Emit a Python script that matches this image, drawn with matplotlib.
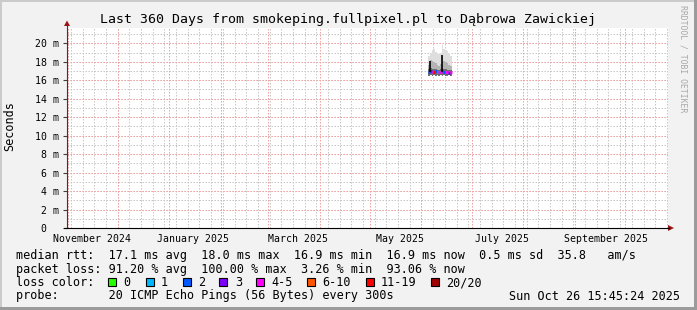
import datetime as dt
import matplotlib
matplotlib.use("Agg")
import matplotlib.pyplot as plt
from matplotlib.patches import Rectangle, Polygon
import pandas as pd

W, H = 697, 310
MONO = "DejaVu Sans Mono"

# ---- data ----
t_start = dt.datetime(2024, 10, 31, 15, 45, 24)
t_end = dt.datetime(2025, 10, 26, 15, 45, 24)

label_dates = [dt.datetime(2024, 11, 15, 16), dt.datetime(2025, 1, 15, 10),
               dt.datetime(2025, 3, 19, 7), dt.datetime(2025, 5, 19, 7),
               dt.datetime(2025, 7, 19, 7), dt.datetime(2025, 9, 19, 7)]
label_text = ["November 2024", "January 2025", "March 2025",
              "May 2025", "July 2025", "September 2025"]

ytick_vals = [0, 2, 4, 6, 8, 10, 12, 14, 16, 18, 20]
ytick_text = ["0  ", "2 m", "4 m", "6 m", "8 m", "10 m", "12 m", "14 m",
              "16 m", "18 m", "20 m"]

# daily samples, 5 - 18 June 2025 (values in ms)
smoke_days = pd.date_range("2025-06-05", periods=14, freq="D")
ping_min = [16.5, 16.6, 16.5, 16.6, 16.5, 16.6, 16.5, 16.6, 16.5, 16.6, 16.5, 16.5, 16.6, 16.5]
ping_mid = [17.2, 17.3, 17.2, 17.2, 17.2, 17.1, 17.1, 17.2, 17.3, 17.2, 17.2, 17.1, 17.1, 17.1]
ping_q75 = [17.6, 18.2, 18.1, 18.0, 17.9, 17.6, 17.5, 17.8, 18.4, 18.1, 18.0, 17.9, 17.7, 17.5]
ping_max = [18.6, 19.0, 19.3, 19.4, 19.1, 18.9, 18.8, 19.0, 19.8, 19.4, 19.3, 19.2, 19.0, 18.6]
median = [16.9, 17.0, 16.9, 16.9, 17.0, 16.9, 16.9, 16.9, 17.0, 16.9, 16.9, 16.9, 16.8, 16.9]
loss_idx = [2, 3, 4, 6, 2, 1, 4, 4, 3, 2, 4, 4, 3, 4]

spike_dates = [dt.datetime(2025, 6, 6, 1), dt.datetime(2025, 6, 13, 12)]
spike_tops = [18.1, 18.7]

loss_labels = ["0", "1", "2", "3", "4-5", "6-10", "11-19", "20/20"]
loss_colors = ["#26ff00", "#00b8ff", "#0059ff", "#7e00ff", "#ff00ff",
               "#ff5500", "#ff0000", "#a10000"]

legend_lines = [
    "median rtt:  17.1 ms avg  18.0 ms max  16.9 ms min  16.9 ms now  0.5 ms sd  35.8   am/s",
    "packet loss: 91.20 % avg  100.00 % max  3.26 % min  93.06 % now",
    "loss color:",
    "probe:       20 ICMP Echo Pings (56 Bytes) every 300s",
]
stamp = "Sun Oct 26 15:45:24 2025"


def fx(px):
    return px / W


def fy(py):
    return 1 - py / H


def rect(x0, y0, x1, y1, **kw):
    # pixel box (top-left origin) -> figure rectangle
    return Rectangle((fx(x0), fy(y1)), fx(x1) - fx(x0), fy(y0) - fy(y1),
                     transform=fig.transFigure, **kw)


fig = plt.figure(figsize=(W / 100, H / 100), dpi=100, facecolor="#f2f2f2")

# 3d-ish border
fig.patches.append(rect(0, 0, W, 1.5, color="#cbcbcb", lw=0))
fig.patches.append(rect(0, 0, 1.5, H, color="#cbcbcb", lw=0))
fig.patches.append(rect(694, 0, W, H, color="#9b9b9b", lw=0))
fig.patches.append(rect(0, 307, W, H, color="#9b9b9b", lw=0))

ax = fig.add_axes([fx(67), fy(228), fx(668 - 67), fy(28) - fy(228)])
ax.set_facecolor("white")
ax.set_xlim(t_start, t_end)
ax.set_ylim(0, 21.66)
for s in ax.spines.values():
    s.set_visible(False)

# grid, dotted
grid_kw = dict(lw=0.72, ls=(0, (1.5, 1.5)), zorder=1)
for v in range(1, 22):
    ax.axhline(v, color="#c8c8c8", **grid_kw)
for d in pd.date_range("2024-11-03", "2025-10-26", freq="7D"):
    ax.axvline(d, color="#c8c8c8", **grid_kw)
for v in range(2, 21, 2):
    ax.axhline(v, color="#f3a2a2", **grid_kw)
for d in pd.date_range("2024-11-01", "2025-10-01", freq="MS"):
    ax.axvline(d, color="#f3a2a2", **grid_kw)

# smoke
edges = list(smoke_days) + [smoke_days[-1] + pd.Timedelta(days=1)]
ax.fill_between(edges, ping_min + ping_min[-1:], ping_max + ping_max[-1:],
                step="post", color="#dedede", lw=0, zorder=2)
ax.fill_between(edges, ping_min + ping_min[-1:], ping_q75 + ping_q75[-1:],
                step="post", color="#b4b4b4", lw=0, zorder=2)
ax.fill_between(edges, ping_min + ping_min[-1:], ping_mid + ping_mid[-1:],
                step="post", color="#6e6e6e", lw=0, zorder=2)
for i, m in enumerate(median):
    ax.hlines(m, edges[i], edges[i + 1], color=loss_colors[loss_idx[i]],
              lw=2.2, zorder=3)
for d, top in zip(spike_dates, spike_tops):
    ax.vlines(d, 16.9, top, color="black", lw=1.2, zorder=4)

# ticks
ax.set_yticks(ytick_vals)
ax.set_yticklabels(ytick_text, family=MONO, fontsize=7.1)
ax.tick_params(axis="y", length=3, width=0.8, color="#404040", pad=3)
ax.set_xticks(label_dates)
ax.set_xticklabels(label_text, family=MONO, fontsize=7.1)
ax.tick_params(axis="x", length=0, pad=4)

# axes with arrows
fig.add_artist(plt.Line2D([fx(67), fx(67)], [fy(228), fy(25)], color="#5a2a2a", lw=0.8))
fig.add_artist(plt.Line2D([fx(64), fx(669)], [fy(228), fy(228)], color="black", lw=0.8))
fig.patches.append(Polygon([(fx(64), fy(26)), (fx(70), fy(26)), (fx(67), fy(20.5))],
                           closed=True, transform=fig.transFigure, color="#9a1515", lw=0))
fig.patches.append(Polygon([(fx(668), fy(225)), (fx(668), fy(231)), (fx(674), fy(228))],
                           closed=True, transform=fig.transFigure, color="#9a1515", lw=0))

# texts
fig.text(fx(347.5), fy(23), "Last 360 Days from smokeping.fullpixel.pl to D\u0105browa Zawickiej",
         family=MONO, fontsize=9.5, ha="center", va="baseline")
fig.text(fx(10), fy(126), "Seconds", family=MONO, fontsize=8.5, rotation=90,
         ha="center", va="center")
fig.text(fx(683), fy(5), "RRDTOOL / TOBI OETIKER", family=MONO, fontsize=5.9,
         rotation=270, ha="center", va="top", color="#a8a8a8")

baselines = [259, 272.5, 286, 299.5]
for line, b in zip(legend_lines, baselines):
    fig.text(fx(16), fy(b), line, family=MONO, fontsize=8.5, ha="left", va="baseline")
fig.text(fx(680), fy(299.5), stamp, family=MONO, fontsize=8.5, ha="right", va="baseline")

box_x = [108.3, 145.7, 182.7, 219.3, 256, 307.3, 365.7, 430.7]
lab_x = [123.3, 161, 197.7, 235, 271.7, 322.7, 381, 445.7]
for bx, lx, c, lab in zip(box_x, lab_x, loss_colors, loss_labels):
    fig.patches.append(rect(bx, 278, bx + 8, 286, facecolor=c,
                            edgecolor="black", lw=0.8))
    fig.text(fx(lx), fy(286), lab, family=MONO, fontsize=8.5, ha="left", va="baseline")

fig.savefig("out.png", dpi=100, facecolor=fig.get_facecolor())
